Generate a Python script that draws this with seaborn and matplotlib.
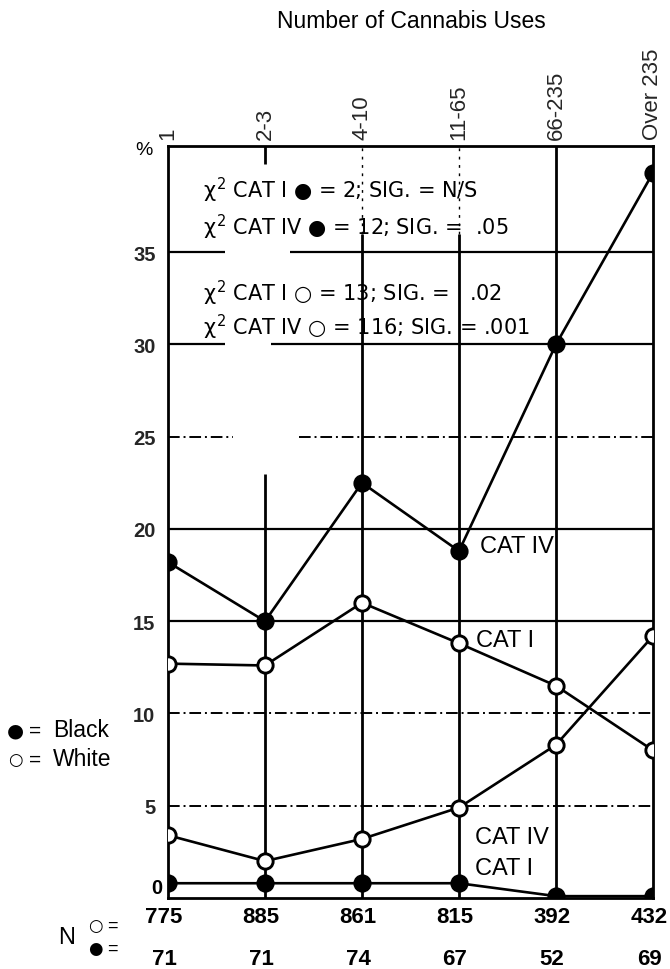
import matplotlib
matplotlib.use("Agg")
import matplotlib.pyplot as plt
import seaborn as sns
import pandas as pd

# ---- data -------------------------------------------------------------
categories = ["1", "2-3", "4-10", "11-65", "66-235", "Over 235"]
black_cat_iv = [18.2, 15.0, 22.5, 18.8, 30.0, 39.3]
white_cat_i = [12.7, 12.6, 16.0, 13.8, 11.5, 8.0]
white_cat_iv = [3.4, 2.0, 3.2, 4.9, 8.3, 14.2]
black_cat_i = [0.8, 0.8, 0.8, 0.8, 0.1, 0.1]
n_white = [775, 885, 861, 815, 392, 432]
n_black = [71, 71, 74, 67, 52, 69]
y_ticks = [0, 5, 10, 15, 20, 25, 30, 35]
chi_lines = [
    "$\\chi^2$ CAT I \u25CF = 2; SIG. = N/S",
    "$\\chi^2$ CAT IV \u25CF = 12; SIG. =  .05",
    "$\\chi^2$ CAT I \u25CB = 13; SIG. =   .02",
    "$\\chi^2$ CAT IV \u25CB = 116; SIG. = .001",
]

# ---- style ------------------------------------------------------------
sns.set_theme(style="white")
plt.rcParams["font.family"] = ["Liberation Sans", "DejaVu Sans"]
plt.rcParams["mathtext.fontset"] = "custom"
plt.rcParams["mathtext.rm"] = "DejaVu Sans"
plt.rcParams["mathtext.it"] = "DejaVu Sans"
plt.rcParams["mathtext.bf"] = "DejaVu Sans:bold"
plt.rcParams["text.color"] = "black"
SYM = ["DejaVu Sans"]

W, H = 670, 970
fig = plt.figure(figsize=(W / 100, H / 100), dpi=100)
ax = fig.add_axes([168 / W, 71 / H, 485 / W, 752 / H])
YMAX = 40.75
pos = list(range(len(categories)))

# ---- grid lines (drawn as rules on the chart) ---------------------------
rule = dict(color="black", zorder=1)
dashdot = (0, (6, 2, 1, 2))
ax.hlines(35, 0, 0.59, lw=1.6, **rule)
ax.hlines(35, 1.26, 5, lw=1.6, **rule)
ax.hlines(30, 0, 0.59, lw=1.6, **rule)
ax.hlines(30, 1.06, 5, lw=1.6, **rule)
ax.hlines(25, 0, 0.67, lw=1.4, linestyles=dashdot, **rule)
ax.hlines(25, 1.35, 5, lw=1.4, linestyles=dashdot, **rule)
ax.hlines(20, 0, 5, lw=1.6, **rule)
ax.hlines(15, 0, 5, lw=1.6, **rule)
ax.hlines([10, 5], 0, 5, lw=1.4, linestyles=dashdot, **rule)

ax.vlines(1, 0, 23.0, lw=2.0, **rule)
ax.vlines(1, YMAX - 1.0, YMAX, lw=2.0, **rule)
ax.vlines([2, 3], 0, 36.0, lw=2.0, **rule)
ax.vlines([2, 3], 36.0, YMAX, lw=1.0, linestyles=(0, (2, 4)), **rule)
ax.vlines(4, 0, YMAX, lw=2.0, **rule)

# ---- series -----------------------------------------------------------
series = [
    (black_cat_iv, "black"),
    (white_cat_i, "white"),
    (white_cat_iv, "white"),
    (black_cat_i, "black"),
]
for values, face in series:
    df = pd.DataFrame({"use": pos, "pct": values})
    sns.lineplot(data=df, x="use", y="pct", ax=ax, color="black", lw=1.9,
                 marker="o", markersize=11, markerfacecolor=face,
                 markeredgecolor="black", markeredgewidth=2.1, zorder=5)

# ---- axes -------------------------------------------------------------
ax.set_xlim(0, 5)
ax.set_ylim(0, YMAX)
ax.set_xlabel("")
ax.set_ylabel("")
for sp in ax.spines.values():
    sp.set_visible(True)
    sp.set_color("black")
    sp.set_linewidth(2.0)

ax.xaxis.tick_top()
ax.set_xticks(pos)
ax.set_xticklabels(categories, rotation=90, fontsize=16)
ax.tick_params(axis="x", length=0, pad=5)
ax.set_yticks(y_ticks)
ax.set_yticklabels([""] + [str(t) for t in y_ticks[1:]], fontsize=14.5,
                   fontweight="bold")
ax.tick_params(axis="y", length=0, pad=9)
# the zero label sits a little above its line, clear of the counts below
ax.text(-0.115, 0.55, "0", fontsize=14.5, fontweight="bold",
        ha="center", va="center", clip_on=False)
ax.text(-0.25, YMAX - 0.2, "%", fontsize=14, ha="center", va="center")

# ---- annotations ------------------------------------------------------
chi_y = [38.4, 36.4, 32.8, 30.95]
for txt, yy in zip(chi_lines, chi_y):
    ax.text(0.36, yy, txt, fontsize=15, family=SYM, ha="left",
            va="center", zorder=6)

ax.text(3.22, 19.1, "CAT IV", fontsize=17, ha="left", va="center")
ax.text(3.18, 14.0, "CAT I", fontsize=17, ha="left", va="center")
ax.text(3.16, 3.3, "CAT IV", fontsize=17, ha="left", va="center")
ax.text(3.16, 1.65, "CAT I", fontsize=17, ha="left", va="center")

fig.text(411 / W, 1 - 21 / H, "Number of Cannabis Uses", fontsize=16.5,
         ha="center", va="center")

# legend for the two groups
fig.text(15 / W, 1 - 731 / H, "\u25CF", fontsize=14, family=SYM,
         ha="center", va="center")
fig.text(15 / W, 1 - 760 / H, "\u25CB", fontsize=12, family=SYM,
         ha="center", va="center")
fig.text(35 / W, 1 - 731 / H, "=", fontsize=15, ha="center", va="center")
fig.text(35 / W, 1 - 760 / H, "=", fontsize=15, ha="center", va="center")
fig.text(53 / W, 1 - 731 / H, "Black", fontsize=16.5, ha="left", va="center")
fig.text(53 / W, 1 - 760 / H, "White", fontsize=16.5, ha="left", va="center")

# sample sizes under each category
fig.text(67 / W, 1 - 938 / H, "N", fontsize=17, ha="center", va="center")
fig.text(95 / W, 1 - 926 / H, "\u25CB", fontsize=12, family=SYM,
         ha="center", va="center")
fig.text(95 / W, 1 - 949 / H, "\u25CF", fontsize=12, family=SYM,
         ha="center", va="center")
fig.text(112 / W, 1 - 926 / H, "=", fontsize=13, ha="center", va="center")
fig.text(112 / W, 1 - 949 / H, "=", fontsize=13, ha="center", va="center")
for i, (nw, nb) in enumerate(zip(n_white, n_black)):
    xf = (168 + 97 * i - 4) / W
    fig.text(xf, 1 - 918 / H, str(nw), fontsize=16, fontweight="bold",
             ha="center", va="center")
    fig.text(xf, 1 - 960 / H, str(nb), fontsize=16, fontweight="bold",
             ha="center", va="center")

fig.savefig("out.png", dpi=100, facecolor="white")
